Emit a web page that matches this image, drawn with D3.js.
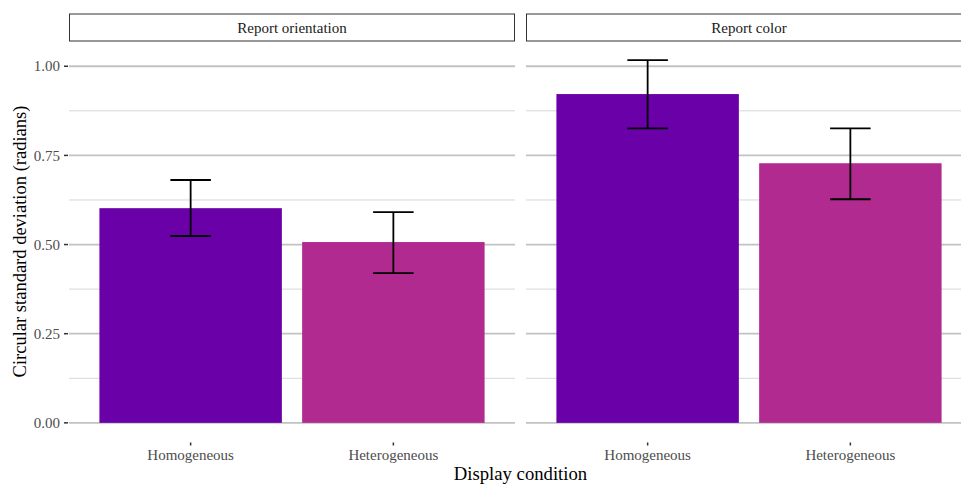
<!DOCTYPE html>
<html>
<head>
<meta charset="utf-8">
<script src="https://cdn.jsdelivr.net/npm/d3@7"></script>
<style>
  body { margin: 0; background: #fff; }
  svg { display: block; font-family: "Liberation Serif", "DejaVu Serif", serif; }
</style>
</head>
<body>
<div id="chart"></div>
<script>
// data
const panels = ["Report orientation", "Report color"];
const conditions = ["Homogeneous", "Heterogeneous"];
const means = [[0.602, 0.507], [0.922, 0.728]];
const lower = [[0.524, 0.420], [0.826, 0.627]];
const upper = [[0.681, 0.591], [1.017, 0.826]];
const yTicks = [0, 0.25, 0.5, 0.75, 1.0];
const yMinor = [0.125, 0.375, 0.625, 0.875];
const colors = ["#6a00a8", "#b12a90"];

const W = 961, H = 484;
const panelW = 446, gap = 11, left0 = 69;
const panelTop = 42, panelBottom = 441;

const svg = d3.select("#chart").append("svg")
    .attr("width", W).attr("height", H);

const y = d3.scaleLinear().domain([-0.0509, 1.068]).range([panelBottom, panelTop]);

panels.forEach((p, pi) => {
    const x0 = left0 + pi * (panelW + gap);
    const g = svg.append("g").attr("transform", `translate(${x0},0)`);

    // discrete x with 0.6 expansion
    const x = d3.scaleLinear().domain([0.4, 2.6]).range([0, panelW]);
    const bw = x(1.45) - x(0.55);

    // minor grid
    g.selectAll(".minor").data(yMinor).enter().append("line")
        .attr("x1", 0).attr("x2", panelW)
        .attr("y1", d => y(d)).attr("y2", d => y(d))
        .attr("stroke", "#d6d6d6").attr("stroke-width", 1);
    // major grid
    g.selectAll(".major").data(yTicks).enter().append("line")
        .attr("x1", 0).attr("x2", panelW)
        .attr("y1", d => y(d)).attr("y2", d => y(d))
        .attr("stroke", "#c2c2c2").attr("stroke-width", 1.8);

    // bars
    g.selectAll(".bar").data(conditions).enter().append("rect")
        .attr("x", (d, i) => x(i + 1) - bw / 2)
        .attr("width", bw)
        .attr("y", (d, i) => y(means[pi][i]))
        .attr("height", (d, i) => y(0) - y(means[pi][i]))
        .attr("fill", (d, i) => colors[i]);

    // error bars
    const ew = x(1.1) - x(0.9);
    conditions.forEach((c, i) => {
        const cx = x(i + 1);
        const e = g.append("g").attr("stroke", "#000").attr("stroke-width", 1.8);
        e.append("line").attr("x1", cx).attr("x2", cx)
            .attr("y1", y(lower[pi][i])).attr("y2", y(upper[pi][i]));
        e.append("line").attr("x1", cx - ew / 2).attr("x2", cx + ew / 2)
            .attr("y1", y(lower[pi][i])).attr("y2", y(lower[pi][i]));
        e.append("line").attr("x1", cx - ew / 2).attr("x2", cx + ew / 2)
            .attr("y1", y(upper[pi][i])).attr("y2", y(upper[pi][i]));
    });

    // x ticks and labels
    conditions.forEach((c, i) => {
        g.append("line").attr("x1", x(i + 1)).attr("x2", x(i + 1))
            .attr("y1", panelBottom + 1.5).attr("y2", panelBottom + 4.5)
            .attr("stroke", "#333").attr("stroke-width", 1.5);
        g.append("text").attr("x", x(i + 1)).attr("y", panelBottom + 19)
            .attr("text-anchor", "middle").attr("font-size", 15)
            .attr("fill", "#4d4d4d").text(c);
    });

    // strip
    g.append("rect").attr("x", 0.5).attr("y", 14).attr("width", panelW - 1).attr("height", 27)
        .attr("fill", "#fff").attr("stroke", "#333").attr("stroke-width", 1);
    g.append("text").attr("x", panelW / 2).attr("y", 33)
        .attr("text-anchor", "middle").attr("font-size", 15)
        .attr("fill", "#1a1a1a").text(p);
});

// y axis
const ya = svg.append("g");
yTicks.forEach(t => {
    ya.append("line").attr("x1", 64).attr("x2", 68)
        .attr("y1", y(t)).attr("y2", y(t))
        .attr("stroke", "#333").attr("stroke-width", 1.5);
    ya.append("text").attr("x", 60).attr("y", y(t)).attr("dy", "0.35em")
        .attr("text-anchor", "end").attr("font-size", 15)
        .attr("fill", "#4d4d4d").text(d3.format(".2f")(t));
});

// axis titles
svg.append("text").attr("x", left0 + panelW + gap / 2).attr("y", 480)
    .attr("text-anchor", "middle").attr("font-size", 18.7).attr("fill", "#000")
    .text("Display condition");
svg.append("text")
    .attr("transform", `translate(26,${(panelTop + panelBottom) / 2}) rotate(-90)`)
    .attr("text-anchor", "middle").attr("font-size", 18.5).attr("fill", "#000")
    .text("Circular standard deviation (radians)");
</script>
</body>
</html>
